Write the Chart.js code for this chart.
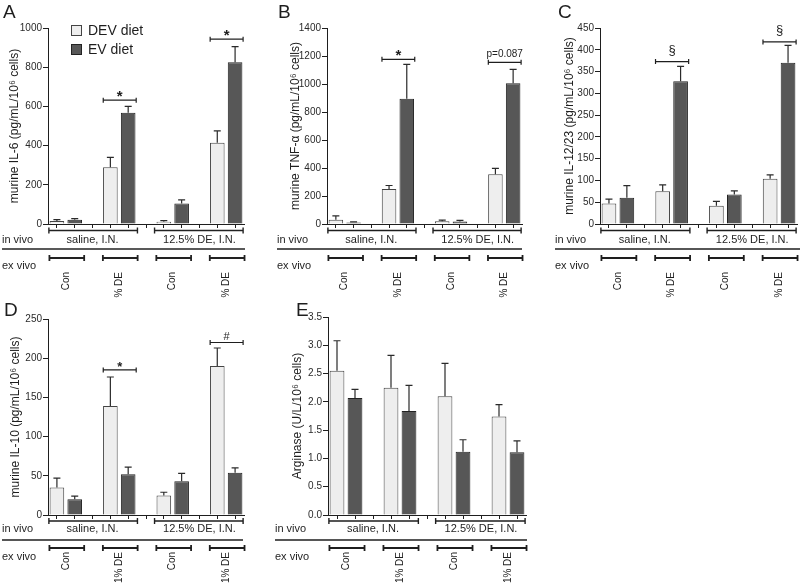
<!DOCTYPE html>
<html>
<head>
<meta charset="utf-8">
<script src="https://cdn.jsdelivr.net/npm/chart.js@4.4.0/dist/chart.umd.min.js"></script>
<style>
  body { margin: 0; background: #fff; width: 800px; height: 588px; position: relative; overflow: hidden; }
  canvas { position: absolute; }
</style>
</head>
<body>
<canvas id="cA" width="260" height="298" style="left:0;top:0"></canvas>
<canvas id="cB" width="270" height="298" style="left:260px;top:0"></canvas>
<canvas id="cC" width="270" height="298" style="left:530px;top:0"></canvas>
<canvas id="cD" width="260" height="298" style="left:0;top:290px"></canvas>
<canvas id="cE" width="290" height="298" style="left:260px;top:290px"></canvas>
<script>
// groups along the x axis (in vivo / ex vivo)
const inVivo = ['saline, I.N.', '12.5% DE, I.N.'];
const exVivo = ['Con', '1% DE', 'Con', '1% DE'];
const seriesNames = ['DEV diet', 'EV diet'];

// A: IL-6
const il6Dev = [15, 290, 12, 415];
const il6DevErr = [7, 50, 5, 60];
const il6Ev = [22, 568, 105, 825];
const il6EvErr = [5, 32, 18, 80];
// B: TNF-a
const tnfDev = [30, 250, 20, 355];
const tnfDevErr = [28, 25, 8, 42];
const tnfEv = [10, 895, 18, 1005];
const tnfEvErr = [5, 245, 8, 100];
// C: IL-12/23
const il12Dev = [47, 75, 42, 104];
const il12DevErr = [10, 15, 10, 9];
const il12Ev = [60, 328, 68, 370];
const il12EvErr = [28, 34, 8, 40];
// D: IL-10
const il10Dev = [35, 139, 25, 190];
const il10DevErr = [12, 37, 4, 23];
const il10Ev = [20, 52, 43, 54];
const il10EvErr = [4, 9, 10, 6];
// E: arginase
const argDev = [2.55, 2.25, 2.10, 1.74];
const argDevErr = [0.53, 0.57, 0.58, 0.21];
const argEv = [2.07, 1.84, 1.12, 1.11];
const argEvErr = [0.15, 0.45, 0.21, 0.20];

const FAM = "'Liberation Sans', Arial, sans-serif";
Chart.defaults.font.family = FAM;
const INK = '#1e1e1e';
const devFill = '#eeeeee', devLine = '#444';
const evFill = '#575757', evLine = '#222';

// 11 slots: DEV, EV, gap, DEV, EV, break, DEV, EV, gap, DEV, EV
const devSlots = [0, 3, 6, 9];
const evSlots = [1, 4, 7, 10];
const slotNames = [];
for (let i = 0; i < 11; i++) slotNames.push('s' + i);

function toSlots(vals, slots) {
  const arr = new Array(11).fill(null);
  vals.forEach((v, i) => { arr[slots[i]] = v; });
  return arr;
}

const decor = {
  id: 'decor',
  afterDatasetsDraw(chart) {
    const ctx = chart.ctx, ys = chart.scales.y;
    ctx.save();
    ctx.strokeStyle = '#2a2a2a';
    ctx.lineWidth = 1.2;
    chart.data.datasets.forEach((ds, d) => {
      const meta = chart.getDatasetMeta(d);
      meta.data.forEach((el, i) => {
        if (ds.data[i] == null) return;
        const yt = ys.getPixelForValue(ds.data[i] + ds.errors[i]);
        ctx.beginPath();
        ctx.moveTo(el.x, el.y);
        ctx.lineTo(el.x, yt);
        ctx.moveTo(el.x - 3.5, yt);
        ctx.lineTo(el.x + 3.5, yt);
        ctx.stroke();
      });
    });
    ctx.restore();
  },
  afterDraw(chart, args, o) {
    const ctx = chart.ctx, xs = chart.scales.x, ys = chart.scales.y;
    const b = chart.chartArea.bottom;
    const r = o.rows;
    ctx.save();
    ctx.fillStyle = INK;
    ctx.strokeStyle = INK;

    // panel letter
    ctx.font = '19px ' + FAM;
    ctx.textBaseline = 'top';
    ctx.textAlign = 'left';
    ctx.fillText(o.letter, o.letterPos[0], o.letterPos[1]);

    // legend (panel A only)
    if (o.legend) {
      const lx = 71;
      [[devFill, devLine, 25], [evFill, evLine, 44]].forEach((c, i) => {
        ctx.fillStyle = c[0];
        ctx.fillRect(lx, c[2], 10, 10);
        ctx.strokeStyle = c[1];
        ctx.lineWidth = 1;
        ctx.strokeRect(lx + 0.5, c[2] + 0.5, 10, 10);
        ctx.fillStyle = INK;
        ctx.font = '14px ' + FAM;
        ctx.textBaseline = 'middle';
        ctx.fillText(seriesNames[i], 88, c[2] + 6);
      });
    }

    function bracket(x1, x2, y, h, lw) {
      ctx.lineWidth = lw;
      ctx.beginPath();
      ctx.moveTo(x1, y); ctx.lineTo(x2, y);
      ctx.moveTo(x1, y - h); ctx.lineTo(x1, y + h);
      ctx.moveTo(x2, y - h); ctx.lineTo(x2, y + h);
      ctx.stroke();
    }

    // significance brackets
    o.sig.forEach(s => {
      const x1 = xs.getPixelForValue(s.a - 0.4);
      const x2 = xs.getPixelForValue(s.b + 0.45);
      const y = ys.getPixelForValue(s.y);
      bracket(x1, x2, y, 2.5, 1.2);
      ctx.font = s.font;
      ctx.textAlign = 'center';
      ctx.textBaseline = 'alphabetic';
      ctx.fillText(s.label, (x1 + x2) / 2, y + s.dy);
    });

    // in vivo row
    ctx.font = '11px ' + FAM;
    ctx.textAlign = 'left';
    ctx.textBaseline = 'middle';
    ctx.fillText('in vivo', o.textX, b + r[1]);
    bracket(xs.getPixelForValue(-0.45), xs.getPixelForValue(4.52), b + r[0], 3, 1.4);
    bracket(xs.getPixelForValue(5.48), xs.getPixelForValue(10.45), b + r[0], 3, 1.4);
    ctx.font = '11px ' + FAM;
    ctx.textAlign = 'center';
    ctx.fillText(inVivo[0], xs.getPixelForValue(2), b + r[1]);
    ctx.fillText(inVivo[1], xs.getPixelForValue(8), b + r[1]);

    // divider
    ctx.lineWidth = 1.4;
    ctx.beginPath();
    ctx.moveTo(o.textX, b + r[2]);
    ctx.lineTo(o.lineEnd, b + r[2]);
    ctx.stroke();

    // ex vivo row
    ctx.font = '11px ' + FAM;
    ctx.textAlign = 'left';
    ctx.fillText('ex vivo', o.textX, b + r[4]);
    devSlots.forEach((s, i) => {
      bracket(xs.getPixelForValue(s - 0.42), xs.getPixelForValue(s + 1.53), b + r[3], 3, 1.8);
      ctx.save();
      ctx.translate(xs.getPixelForValue(s + 0.5), b + r[5]);
      ctx.rotate(-Math.PI / 2);
      ctx.font = '10px ' + FAM;
      ctx.textAlign = 'right';
      ctx.textBaseline = 'middle';
      ctx.fillText(exVivo[i], 0, 0);
      ctx.restore();
    });
    ctx.restore();
  }
};

function makePanel(id, p) {
  const [left, top, w, h] = p.box;
  const [pl, pt, pr, pb] = p.plot;
  new Chart(document.getElementById(id), {
    type: 'bar',
    data: {
      labels: slotNames,
      datasets: [
        { label: seriesNames[0], data: toSlots(p.dev, devSlots), errors: toSlots(p.devErr, devSlots),
          backgroundColor: devFill, borderColor: devLine, borderWidth: 1,
          grouped: false, barPercentage: 0.82, categoryPercentage: 1 },
        { label: seriesNames[1], data: toSlots(p.ev, evSlots), errors: toSlots(p.evErr, evSlots),
          backgroundColor: evFill, borderColor: evLine, borderWidth: 1,
          grouped: false, barPercentage: 0.82, categoryPercentage: 1 }
      ]
    },
    options: {
      responsive: false,
      animation: false,
      events: [],
      layout: { padding: { left: 0, top: pt - top, right: left + w - pr, bottom: 0 } },
      plugins: {
        legend: { display: false },
        tooltip: { enabled: false },
        decor: p.decor
      },
      scales: {
        x: {
          ticks: { display: false },
          grid: { drawOnChartArea: false, offset: false, tickLength: 4, color: INK },
          border: { color: INK, width: 1 },
          afterFit: s => { s.height = top + h - pb; }
        },
        y: {
          min: 0, max: p.max,
          ticks: { stepSize: p.step, padding: 1, color: '#2a2a2a', font: { size: 10 },
                   callback: v => p.dec ? v.toFixed(1) : v },
          grid: { drawOnChartArea: false, tickLength: 5, color: INK },
          border: { color: INK, width: 1 },
          title: { display: true, text: p.title, color: INK, font: { size: 12 },
                   padding: { top: p.titlePad, bottom: 0 } },
          afterFit: s => { s.width = pl - left; }
        }
      }
    },
    plugins: [decor]
  });
}

const topRows = [6.5, 16, 25, 34, 42, 48];
const botRows = [6, 14, 25, 33, 42, 37];
const star = 'bold 15px ' + FAM;

makePanel('cA', {
  box: [0, 0, 260, 298], plot: [48, 28, 244, 224],
  dev: il6Dev, devErr: il6DevErr, ev: il6Ev, evErr: il6EvErr,
  max: 1000, step: 200, title: 'murine IL-6 (pg/mL/10\u2076 cells)', titlePad: 7,
  decor: { letter: 'A', letterPos: [3, 3], legend: true, rows: topRows, textX: 2, lineEnd: 245,
    sig: [{ a: 3, b: 4, y: 632, label: '*', font: star, dy: 1 },
          { a: 9, b: 10, y: 943, label: '*', font: star, dy: 1 }] }
});
makePanel('cB', {
  box: [260, 0, 270, 298], plot: [327, 28, 522, 224],
  dev: tnfDev, devErr: tnfDevErr, ev: tnfEv, evErr: tnfEvErr,
  max: 1400, step: 200, title: 'murine TNF-\u03b1 (pg/mL/10\u2076 cells)', titlePad: 28,
  decor: { letter: 'B', letterPos: [18, 3], rows: topRows, textX: 17, lineEnd: 262,
    sig: [{ a: 3, b: 4, y: 1176, label: '*', font: star, dy: 1 },
          { a: 9, b: 10, y: 1155, label: 'p=0.087', font: '10px ' + FAM, dy: -5 }] }
});
makePanel('cC', {
  box: [530, 0, 270, 298], plot: [600, 28, 797, 224],
  dev: il12Dev, devErr: il12DevErr, ev: il12Ev, evErr: il12EvErr,
  max: 450, step: 50, title: 'murine IL-12/23 (pg/mL/10\u2076 cells)', titlePad: 32,
  decor: { letter: 'C', letterPos: [28, 3], rows: topRows, textX: 25, lineEnd: 270,
    sig: [{ a: 3, b: 4, y: 373, label: '\u00a7', font: '13px ' + FAM, dy: -8 },
          { a: 9, b: 10, y: 418, label: '\u00a7', font: '13px ' + FAM, dy: -8 }] }
});
makePanel('cD', {
  box: [0, 290, 260, 298], plot: [48, 319, 244, 515],
  dev: il10Dev, devErr: il10DevErr, ev: il10Ev, evErr: il10EvErr,
  max: 250, step: 50, title: 'murine IL-10 (pg/mL/10\u2076 cells)', titlePad: 8,
  decor: { letter: 'D', letterPos: [4, 11], rows: botRows, textX: 2, lineEnd: 243,
    sig: [{ a: 3, b: 4, y: 185, label: '*', font: 'bold 13px ' + FAM, dy: 1 },
          { a: 9, b: 10, y: 220, label: '#', font: '11px ' + FAM, dy: -3 }] }
});
makePanel('cE', {
  box: [260, 290, 290, 298], plot: [328, 317, 526, 515],
  dev: argDev, devErr: argDevErr, ev: argEv, evErr: argEvErr,
  max: 3.5, step: 0.5, dec: true, title: 'Arginase (U/L/10\u2076 cells)', titlePad: 30,
  decor: { letter: 'E', letterPos: [36, 11], rows: botRows, textX: 15, lineEnd: 267, sig: [] }
});
</script>
</body>
</html>
